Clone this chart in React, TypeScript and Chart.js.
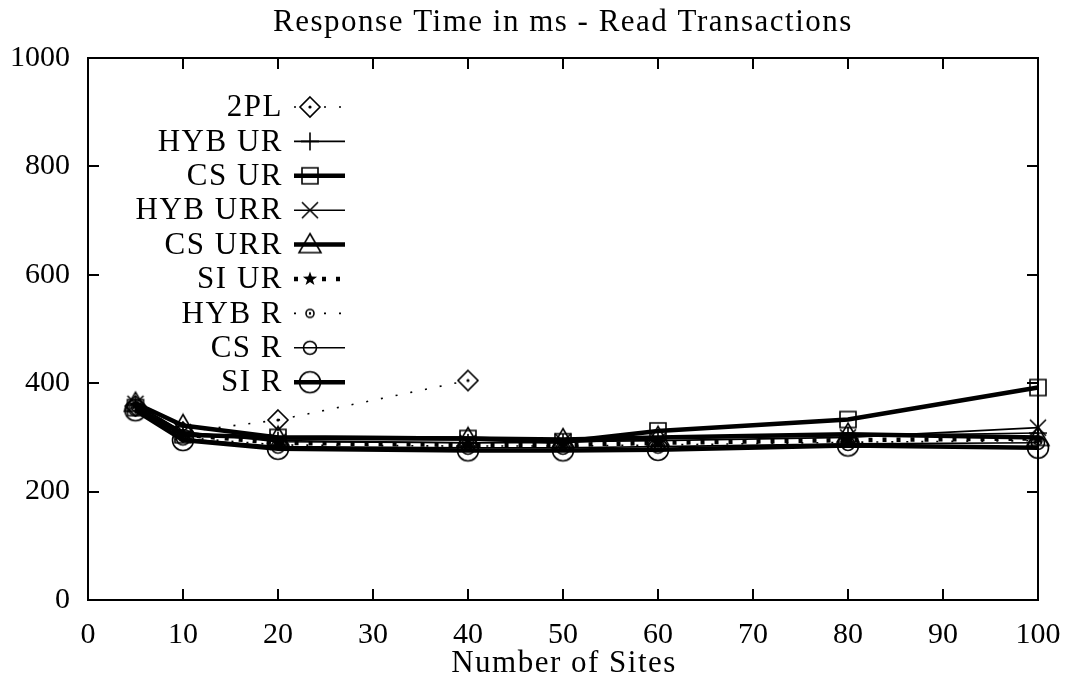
import React, { useEffect, useRef } from "react";
import { Chart, registerables } from "chart.js";
Chart.register(...registerables);

// ---- data ----
const sites = [5, 10, 20, 40, 50, 60, 80, 100];
const sites2PL = [5, 10, 20, 40];
const seriesNames = ["2PL", "HYB UR", "CS UR", "HYB URR", "CS URR", "SI UR", "HYB R", "CS R", "SI R"];
const v2PL = [358, 310, 332, 405];
const vHybUR = [360, 310, 294, 290, 290, 298, 303, 308];
const vCsUR = [355, 305, 300, 298, 292, 312, 333, 392];
const vHybURR = [362, 310, 292, 290, 292, 294, 300, 318];
const vCsURR = [363, 322, 300, 298, 296, 300, 306, 300];
const vSiUR = [360, 305, 290, 286, 286, 290, 295, 298];
const vHybR = [356, 300, 286, 284, 284, 286, 291, 294];
const vCsR = [352, 298, 283, 281, 281, 283, 288, 290];
const vSiR = [350, 295, 279, 276, 276, 277, 285, 281];
const xTickValues = [0, 10, 20, 30, 40, 50, 60, 70, 80, 90, 100];
const yTickValues = [0, 200, 400, 600, 800, 1000];

const titleText = "Response Time in ms - Read Transactions";
const xTitleText = "Number of Sites";

const SERIF = "'Liberation Serif', 'Times New Roman', serif";

type MarkerKind = "diamondDot" | "plus" | "square" | "x" | "triangle" | "star" | "dotCircle" | "smallCircle" | "bigCircle";

function makeMarker(kind: MarkerKind): HTMLCanvasElement {
  const S = 26;
  const c = document.createElement("canvas");
  c.width = S;
  c.height = S;
  const ctx = c.getContext("2d")!;
  const m = S / 2;
  ctx.strokeStyle = "#000";
  ctx.fillStyle = "#000";
  ctx.lineWidth = 1.6;
  ctx.beginPath();
  switch (kind) {
    case "diamondDot":
      ctx.moveTo(m, m - 10);
      ctx.lineTo(m + 10, m);
      ctx.lineTo(m, m + 10);
      ctx.lineTo(m - 10, m);
      ctx.closePath();
      ctx.stroke();
      ctx.beginPath();
      ctx.arc(m, m, 1.6, 0, Math.PI * 2);
      ctx.fill();
      break;
    case "plus":
      ctx.moveTo(m - 9, m);
      ctx.lineTo(m + 9, m);
      ctx.moveTo(m, m - 9);
      ctx.lineTo(m, m + 9);
      ctx.stroke();
      break;
    case "square":
      ctx.rect(m - 8, m - 8, 16, 16);
      ctx.stroke();
      break;
    case "x":
      ctx.moveTo(m - 8, m - 8);
      ctx.lineTo(m + 8, m + 8);
      ctx.moveTo(m + 8, m - 8);
      ctx.lineTo(m - 8, m + 8);
      ctx.stroke();
      break;
    case "triangle":
      ctx.moveTo(m, m - 11);
      ctx.lineTo(m + 11, m + 8);
      ctx.lineTo(m - 11, m + 8);
      ctx.closePath();
      ctx.stroke();
      break;
    case "star": {
      const R = 7.5, r = 3;
      for (let i = 0; i < 10; i++) {
        const rad = i % 2 === 0 ? R : r;
        const a = -Math.PI / 2 + (i * Math.PI) / 5;
        const px = m + rad * Math.cos(a), py = m + rad * Math.sin(a);
        if (i === 0) ctx.moveTo(px, py); else ctx.lineTo(px, py);
      }
      ctx.closePath();
      ctx.fill();
      break;
    }
    case "dotCircle":
      ctx.arc(m, m, 4, 0, Math.PI * 2);
      ctx.stroke();
      ctx.beginPath();
      ctx.arc(m, m, 1.2, 0, Math.PI * 2);
      ctx.fill();
      break;
    case "smallCircle":
      ctx.arc(m, m, 6.5, 0, Math.PI * 2);
      ctx.stroke();
      break;
    case "bigCircle":
      ctx.arc(m, m, 10.5, 0, Math.PI * 2);
      ctx.stroke();
      break;
  }
  return c;
}

const seriesValues = [v2PL, vHybUR, vCsUR, vHybURR, vCsURR, vSiUR, vHybR, vCsR, vSiR];
const seriesX = [sites2PL, sites, sites, sites, sites, sites, sites, sites, sites];
const seriesMarkers: MarkerKind[] = ["diamondDot", "plus", "square", "x", "triangle", "star", "dotCircle", "smallCircle", "bigCircle"];
const seriesWidths = [1.6, 1.6, 4.5, 1.6, 4.5, 4.5, 1.6, 1.6, 4.5];
const seriesDashes: number[][] = [[2, 13], [], [], [], [], [4, 10], [2, 13], [], []];

const PLOT = { left: 88, right: 1038, top: 58, bottom: 600 };

export default function App() {
  const ref = useRef<HTMLCanvasElement | null>(null);
  useEffect(() => {
    document.body.style.margin = "0";
    const canvas = ref.current!;
    const markers = seriesMarkers.map(makeMarker);

    const frame = {
      id: "frame",
      beforeDatasetsDraw(chart: any) {
        const ctx = chart.ctx as CanvasRenderingContext2D;
        const { left, right, top, bottom } = chart.chartArea;
        const xs = chart.scales.x, ys = chart.scales.y;
        ctx.save();
        ctx.strokeStyle = "#000";
        ctx.lineWidth = 2;
        ctx.strokeRect(left, top, right - left, bottom - top);
        ctx.lineWidth = 2;
        ctx.beginPath();
        const tl = 11;
        for (const v of yTickValues) {
          const y = Math.round(ys.getPixelForValue(v));
          ctx.moveTo(left, y); ctx.lineTo(left + tl, y);
          ctx.moveTo(right, y); ctx.lineTo(right - tl, y);
        }
        for (const v of xTickValues) {
          const x = Math.round(xs.getPixelForValue(v));
          ctx.moveTo(x, bottom); ctx.lineTo(x, bottom - tl);
          ctx.moveTo(x, top); ctx.lineTo(x, top + tl);
        }
        ctx.stroke();
        ctx.restore();
      },
      afterDraw(chart: any) {
        const ctx = chart.ctx as CanvasRenderingContext2D;
        ctx.save();
        ctx.fillStyle = "#000";
        ctx.font = `31px ${SERIF}`;
        (ctx as any).letterSpacing = "1.5px";
        ctx.textAlign = "center";
        ctx.textBaseline = "middle";
        ctx.fillText(titleText, 563, 23);
        ctx.fillText(xTitleText, 564, 664);
        // legend
        ctx.textAlign = "right";
        const rowY0 = 107, rowStep = 34.4;
        seriesNames.forEach((name, i) => {
          const y = rowY0 + i * rowStep;
          ctx.fillStyle = "#000";
          ctx.fillText(name, 283, y + 1);
          ctx.save();
          ctx.strokeStyle = "#000";
          ctx.lineWidth = seriesWidths[i];
          ctx.setLineDash(seriesDashes[i]);
          ctx.beginPath();
          ctx.moveTo(294, y);
          ctx.lineTo(345, y);
          ctx.stroke();
          ctx.restore();
          const mk = markers[i];
          ctx.drawImage(mk, 310 - mk.width / 2, y - mk.height / 2);
        });
        ctx.restore();
      },
    };

    const datasets = seriesNames.map((name, i) => ({
      label: name,
      data: seriesX[i].map((x, j) => ({ x, y: seriesValues[i][j] })),
      borderColor: "#000",
      backgroundColor: "#000",
      borderWidth: seriesWidths[i],
      borderDash: seriesDashes[i],
      borderCapStyle: "butt" as const,
      pointStyle: markers[i],
      pointRadius: 6,
      pointHoverRadius: 6,
      tension: 0,
      fill: false,
      clip: false as any,
    }));

    const chart = new Chart(canvas, {
      type: "line",
      data: { datasets },
      plugins: [frame],
      options: {
        animation: false,
        responsive: false,
        devicePixelRatio: 1,
        events: [],
        layout: { padding: { left: 0, right: 1067 - PLOT.right, top: PLOT.top, bottom: 0 } },
        plugins: { legend: { display: false }, tooltip: { enabled: false }, title: { display: false } },
        scales: {
          x: {
            type: "linear",
            min: 0,
            max: 100,
            grid: { display: false, drawTicks: false },
            border: { display: false },
            ticks: { stepSize: 10, color: "#000", font: { family: SERIF, size: 30 }, padding: 17, maxRotation: 0, autoSkip: false, callback: (v: any) => String(v) },
            afterFit(scale: any) {
              scale.height = 685 - PLOT.bottom;
              scale.paddingLeft = 0;
              scale.paddingRight = 0;
            },
          },
          y: {
            type: "linear",
            min: 0,
            max: 1000,
            grid: { display: false, drawTicks: false },
            border: { display: false },
            ticks: { stepSize: 200, color: "#000", font: { family: SERIF, size: 30 }, padding: 18, callback: (v: any) => String(v) },
            afterFit(scale: any) {
              scale.width = PLOT.left;
              scale.paddingTop = 0;
              scale.paddingBottom = 0;
            },
          },
        },
      },
    });
    return () => chart.destroy();
  }, []);
  return (
    <div style={{ position: "relative", width: 1067, height: 685, background: "#fff" }}>
      <canvas ref={ref} width={1067} height={685} style={{ display: "block" }} />
    </div>
  );
}
